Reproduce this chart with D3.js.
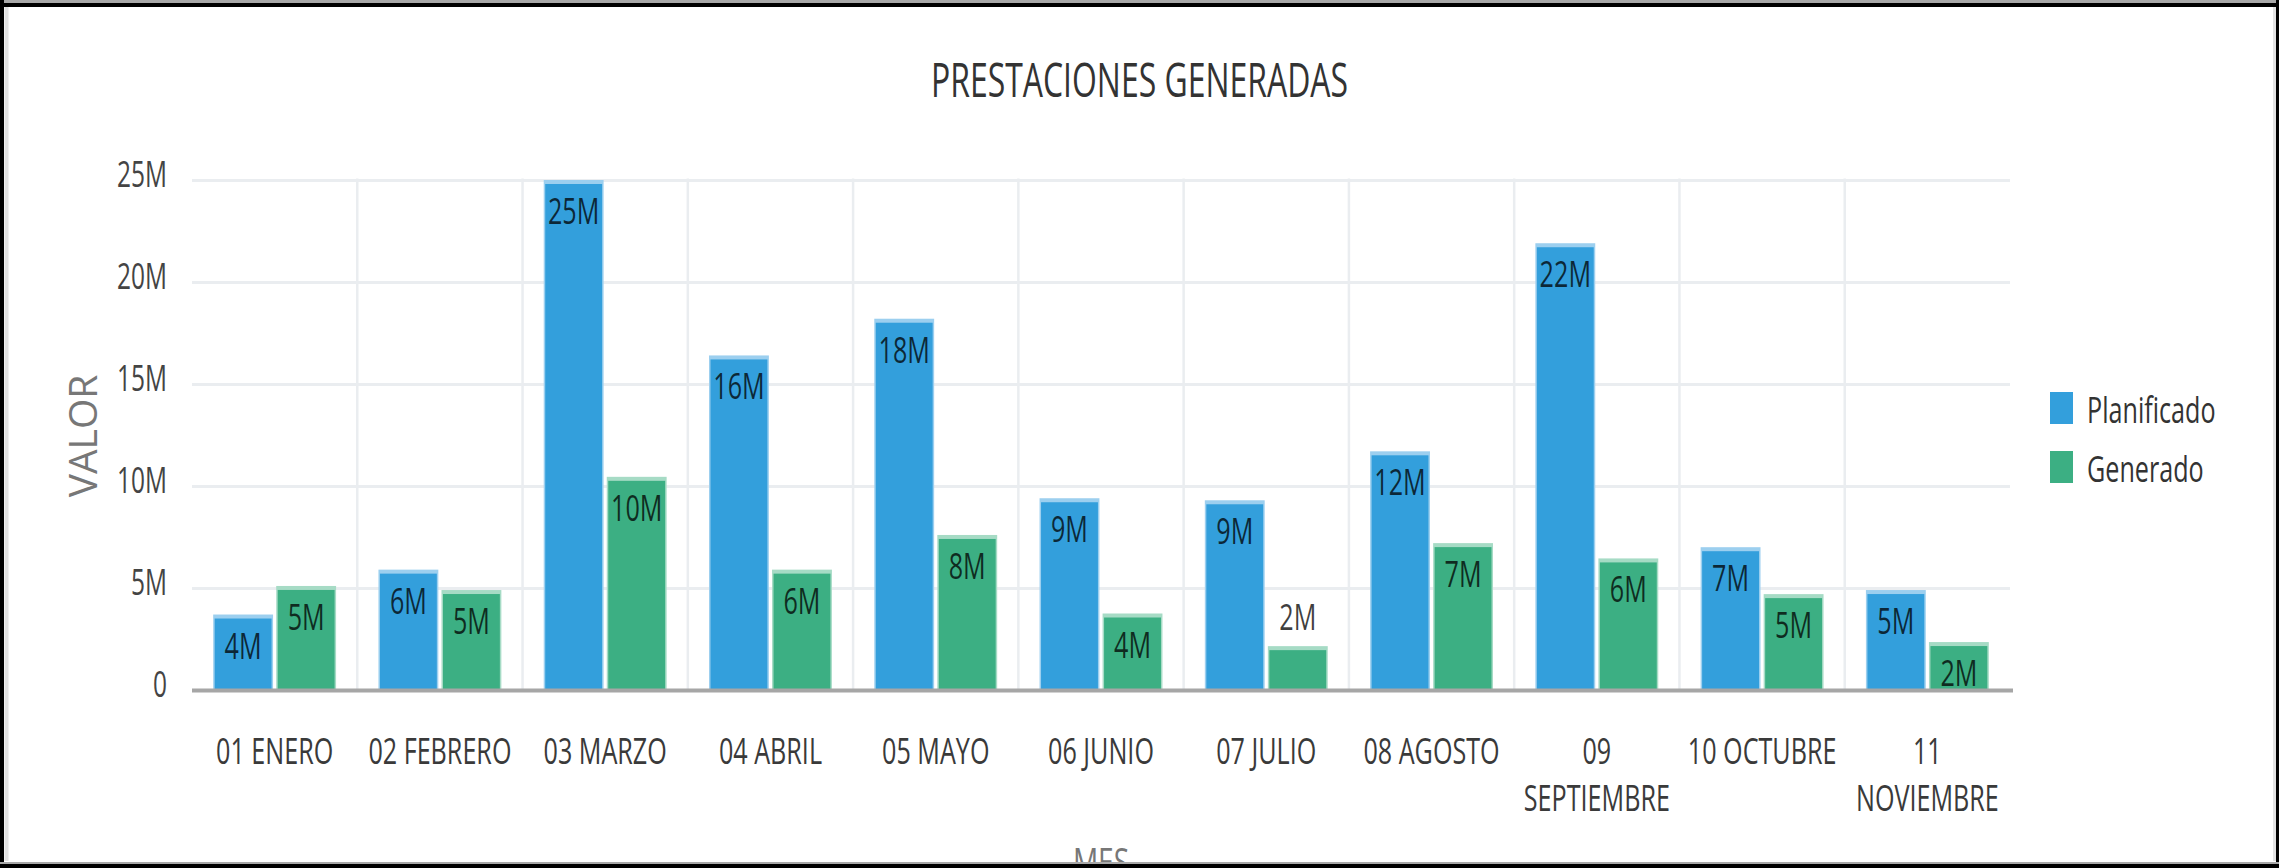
<!DOCTYPE html>
<html><head><meta charset="utf-8">
<script src="https://cdn.jsdelivr.net/npm/d3@7"></script>
<style>
html,body{margin:0;padding:0;background:#fff;overflow:hidden}
svg{display:block}
text{font-family:"Open Sans","Noto Sans",sans-serif}
</style>
</head><body>
<script>
// ---- data (values in millions) ----
const months = ["01 ENERO","02 FEBRERO","03 MARZO","04 ABRIL","05 MAYO","06 JUNIO","07 JULIO","08 AGOSTO","09 SEPTIEMBRE","10 OCTUBRE","11 NOVIEMBRE"];
const planificado = [3.7, 5.9, 25.0, 16.4, 18.2, 9.4, 9.3, 11.7, 21.9, 7.0, 4.9];
const generado    = [5.1, 4.9, 10.45, 5.9, 7.6, 3.75, 2.15, 7.2, 6.45, 4.7, 2.35];
const seriesNames = ["Planificado","Generado"];
const yTickValues = [0, 5, 10, 15, 20, 25];
const chartTitle = "PRESTACIONES GENERADAS";
const yTitle = "VALOR";
const xTitle = "MES";

// ---- layout / style ----
const W = 2279, H = 868, SX = 0.68;
const m = {left:192, right:2010, top:180, bottom:690};
const colors = {Planificado:"#339fdc", Generado:"#3caf83"};
const light  = {Planificado:"#9ccfef", Generado:"#a6dbc5"};
const seriesData = {Planificado: planificado, Generado: generado};

const svg = d3.select("body").append("svg").attr("width", W).attr("height", H);

const x0 = d3.scaleBand().domain(months).range([m.left, m.right]).padding(0);
const x1 = d3.scaleBand().domain(seriesNames).range([0, x0.bandwidth()])
  .paddingInner(0.05).paddingOuter(0.336);
const y = d3.scaleLinear().domain([0, 25e6]).range([m.bottom, m.top]);

// horizontal gridlines
const grid = svg.append("g").attr("transform", `translate(${m.left},0)`)
  .call(d3.axisLeft(y).tickValues(yTickValues.map(v => v*1e6)).tickSize(-(m.right - m.left)).tickFormat(""));
grid.select(".domain").remove();
grid.selectAll("line").attr("stroke", "#eaedf0").attr("stroke-width", 3);

// vertical gridlines at category boundaries
svg.append("g").selectAll("line").data(months.slice(1)).join("line")
  .attr("x1", d => x0(d)).attr("x2", d => x0(d))
  .attr("y1", y(25e6) - 1.5).attr("y2", y(0))
  .attr("stroke", "#eaedf0").attr("stroke-width", 2.5);

// bars
const groups = svg.append("g").selectAll("g").data(months).join("g")
  .attr("transform", d => `translate(${x0(d)},0)`);

groups.each(function(mon, i) {
  const g = d3.select(this);
  seriesNames.forEach(s => {
    const v = seriesData[s][i] * 1e6;
    const bx = x1(s), bw = x1.bandwidth(), by = y(v), bh = y(0) - y(v);
    g.append("rect").attr("x", bx).attr("y", by).attr("width", bw).attr("height", bh)
      .attr("fill", light[s]);
    g.append("rect").attr("x", bx + 1.5).attr("y", by + 4).attr("width", bw - 3).attr("height", Math.max(0, bh - 4))
      .attr("fill", colors[s]);
    const inside = bh >= 46;
    g.append("text")
      .attr("transform", `translate(${bx + bw/2},${inside ? by + 44 : by - 16}) scale(${SX},1)`)
      .attr("text-anchor", "middle").attr("font-size", 37)
      .attr("fill", "rgba(0,0,0,0.75)")
      .text(Math.round(seriesData[s][i]) + "M");
  });
});

// zero axis line
svg.append("line").attr("x1", m.left).attr("x2", m.right + 3)
  .attr("y1", y(0) + 0.5).attr("y2", y(0) + 0.5)
  .attr("stroke", "#a6a6a6").attr("stroke-width", 4);

// y axis labels
const yAxis = svg.append("g").attr("transform", `translate(${m.left},0)`)
  .call(d3.axisLeft(y).tickValues(yTickValues.map(v => v*1e6)).tickSize(0).tickFormat(d3.format("~s")));
yAxis.select(".domain").remove();
yAxis.selectAll("line").remove();
yAxis.selectAll("text")
  .attr("x", null).attr("dy", null).attr("y", null)
  .attr("transform", `translate(-25,6) scale(${SX},1)`)
  .attr("text-anchor", "end").attr("font-size", 36).attr("fill", "#444")
  .attr("font-family", null);

// x axis labels with wrapping
const xAxis = svg.append("g").attr("transform", `translate(0,${y(0)})`)
  .call(d3.axisBottom(x0).tickSize(0));
xAxis.select(".domain").remove();
xAxis.selectAll("line").remove();
xAxis.selectAll("text").each(function(label) {
  const t = d3.select(this);
  t.attr("y", null).attr("dy", null).attr("font-size", 37).attr("fill", "#3a3a3a")
   .attr("font-family", null).attr("text-anchor", "middle")
   .attr("transform", `translate(0,74) scale(${SX},1)`);
  const words = label.split(" ");
  t.text(null);
  const maxW = (x0.bandwidth() - 8) / SX;
  let lines = [], cur = [];
  const probe = t.append("tspan").attr("x", 0);
  words.forEach(w => {
    const test = cur.concat([w]).join(" ");
    probe.text(test);
    if (cur.length && probe.node().getComputedTextLength() > maxW) {
      lines.push(cur.join(" ")); cur = [w];
    } else cur.push(w);
  });
  lines.push(cur.join(" "));
  probe.remove();
  lines.forEach((ln, k) => t.append("tspan").attr("x", 0).attr("dy", k === 0 ? 0 : 47).text(ln));
});

// title
svg.append("text").attr("transform", `translate(${W/2},97) scale(${SX},1)`)
  .attr("text-anchor", "middle").attr("font-size", 47).attr("fill", "#333").text(chartTitle);

// axis titles
svg.append("text").attr("transform", `translate(97,${(m.top + m.bottom)/2 + 1}) rotate(-90)`)
  .attr("text-anchor", "middle").attr("font-size", 39).attr("fill", "#777").text(yTitle);
svg.append("text").attr("transform", `translate(${(m.left + m.right)/2},876) scale(0.72,1)`)
  .attr("text-anchor", "middle").attr("font-size", 39).attr("fill", "#777").text(xTitle);

// legend
const legend = svg.append("g").selectAll("g").data(seriesNames).join("g")
  .attr("transform", (d, i) => `translate(2050,${392 + i*59})`);
legend.append("rect").attr("width", 23).attr("height", 32).attr("fill", d => colors[d]);
legend.append("text").attr("transform", `translate(37,31) scale(${SX},1)`)
  .attr("font-size", 37).attr("fill", "#333").text(d => d);

// outer frame
const frame = svg.append("g");
frame.append("rect").attr("x", 0).attr("y", 0).attr("width", W).attr("height", 3).attr("fill", "#a8a8a8");
frame.append("rect").attr("x", 0).attr("y", 3).attr("width", W).attr("height", 4).attr("fill", "#000");
frame.append("rect").attr("x", 0).attr("y", 0).attr("width", 4).attr("height", H).attr("fill", "#000");
frame.append("rect").attr("x", 4.5).attr("y", 7).attr("width", 4).attr("height", H - 14).attr("fill", "#e2e2e2");
frame.append("rect").attr("x", 2273).attr("y", 7).attr("width", 3).attr("height", H - 14).attr("fill", "#e2e2e2");
frame.append("rect").attr("x", 2276).attr("y", 0).attr("width", 3).attr("height", H).attr("fill", "#000");
frame.append("rect").attr("x", 0).attr("y", 862).attr("width", W).attr("height", 2).attr("fill", "#a8a8a8");
frame.append("rect").attr("x", 0).attr("y", 864).attr("width", W).attr("height", 4).attr("fill", "#000");
</script>
</body></html>
